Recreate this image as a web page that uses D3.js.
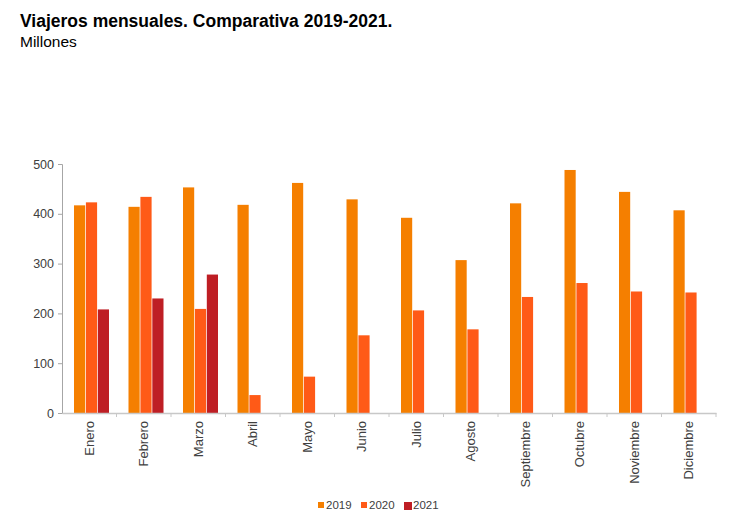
<!DOCTYPE html>
<html><head><meta charset="utf-8">
<script src="https://cdn.jsdelivr.net/npm/d3@7/dist/d3.min.js"></script>
<style>body{margin:0;background:#fff;font-family:"Liberation Sans",Arial,sans-serif;}</style>
</head><body><svg id="c" width="750" height="530"></svg>
<script>
const months = ["Enero","Febrero","Marzo","Abril","Mayo","Junio","Julio","Agosto","Septiembre","Octubre","Noviembre","Diciembre"];
const seriesNames = ["2019","2020","2021"];
const v2019 = [417,414,453,418,462,429,392,307,421,488,444,407];
const v2020 = [423,434,209,36,73,156,206,168,233,261,244,242];
const v2021 = [208,230,278,null,null,null,null,null,null,null,null,null];
const yTicks = [0,100,200,300,400,500];
const colors = ["#F57F00","#FF5A17","#BE1E24"];

const svg = d3.select("#c");
const L=62,R=716,T=164,B=413;
const x0 = d3.scaleBand().domain(months).range([L,R]);
const x1 = d3.scaleBand().domain(seriesNames).range([12,47]).paddingInner(0.06);
const y = d3.scaleLinear().domain([0,500]).range([B,T]);
const series = [v2019,v2020,v2021];

svg.append("text").attr("x",20).attr("y",27).attr("font-size",17.5).attr("font-weight","bold").attr("fill","#000").text("Viajeros mensuales. Comparativa 2019-2021.");
svg.append("text").attr("x",20).attr("y",47).attr("font-size",15.5).attr("fill","#000").text("Millones");

// bars
series.forEach((vals,si)=>{
  svg.append("g").selectAll("rect").data(months.map((m,i)=>({m,v:vals[i]})).filter(d=>d.v!=null))
    .join("rect")
    .attr("x",d=>x0(d.m)+x1(seriesNames[si]))
    .attr("width",x1.bandwidth())
    .attr("y",d=>y(d.v)).attr("height",d=>B-y(d.v))
    .attr("fill",colors[si]);
});

// y axis
const ya = svg.append("g").attr("transform",`translate(${L},0)`)
  .call(d3.axisLeft(y).tickValues(yTicks).tickSize(4).tickPadding(4));
ya.select(".domain").attr("stroke","#a6a6a6");
ya.selectAll(".tick line").attr("stroke","#a6a6a6");
ya.selectAll("text").attr("font-size",12.5).attr("fill","#404040").attr("font-family","Liberation Sans, Arial, sans-serif");

// x axis
const xa = svg.append("g").attr("transform",`translate(0,${B})`)
  .call(d3.axisBottom(x0).tickSize(0).tickSizeOuter(0));
xa.select(".domain").attr("stroke","#c8c8c8").attr("stroke-width",1.5);
xa.selectAll("text").attr("font-size",13).attr("fill","#404040").attr("font-family","Liberation Sans, Arial, sans-serif")
  .attr("transform","rotate(-90)").attr("text-anchor","end").attr("x",-8).attr("y",0).attr("dy","0.35em");
// separator ticks between categories
svg.append("g").selectAll("line").data(months.slice(1).concat(["__end"]))
  .join("line")
  .attr("x1",d=>d==="__end"?R:x0(d)).attr("x2",d=>d==="__end"?R:x0(d))
  .attr("y1",B).attr("y2",B+4).attr("stroke","#c8c8c8");

// legend
const lg = svg.append("g").attr("transform","translate(318,509)");
let lx=0;
seriesNames.forEach((s,i)=>{
  lg.append("rect").attr("x",lx).attr("y",-7).attr("width",i===2?8:6).attr("height",i===2?8:6).attr("fill",colors[i]);
  lg.append("text").attr("x",lx+(i===2?9:8)).attr("y",0).attr("font-size",11.5).attr("fill","#404040").text(s);
  lx+=43;
});
</script></body></html>
